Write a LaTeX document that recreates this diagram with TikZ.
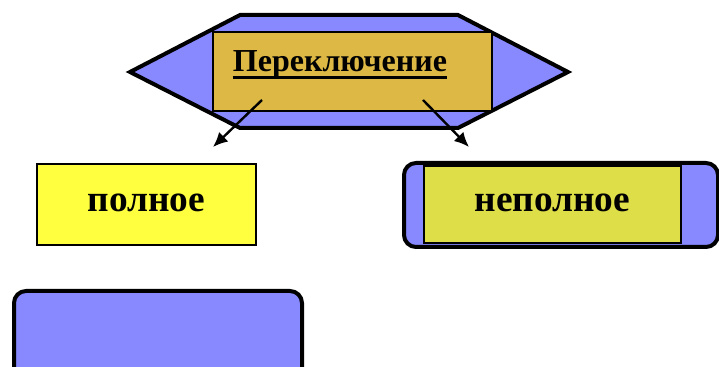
\documentclass[tikz,border=0pt]{standalone}
\usepackage{fontspec}
\setmainfont{Liberation Serif}
\usepackage{tikz}
\usetikzlibrary{calc}
\usetikzlibrary{arrows.meta}
\definecolor{lilac}{RGB}{136,136,255}
\definecolor{gold}{RGB}{221,184,69}
\definecolor{lemon}{RGB}{255,255,64}
\definecolor{olive}{RGB}{222,222,72}

\begin{document}
\begin{tikzpicture}[x=0.75pt,y=-0.75pt]
\tikzstyle{switchbox}=[rectangle,draw,line width=1.5pt,inner sep=0pt]
\tikzstyle{caption}=[font=\bfseries\fontsize{28}{30}\selectfont,inner sep=0pt,anchor=base]

\useasboundingbox (0,0) rectangle (719,367);

% upper hexagon
\draw[line width=3pt,fill=lilac] (130,72) -- (240,15) -- (458,15) -- (568,72) -- (458,128) -- (240,128) -- cycle;
\node [switchbox, fill=gold, minimum width=209.25pt, minimum height=59.25pt] (sw) at (352.5,71.5) {};
\node [caption, font=\bfseries\fontsize{24}{26}\selectfont] (swlabel) at (340,72) {Переключение};
\draw[line width=2.25pt] ($(swlabel.base west)+(0,6)$) -- ($(swlabel.base east)+(0,6)$);

% full
\node [switchbox, fill=lemon, minimum width=164.25pt, minimum height=60.75pt] (full) at (146.5,204.5) {};
\node [caption] (fulllabel) at (146.5,212) {полное};

% not full
\node [rectangle, rounded corners=9pt, draw, line width=3pt, fill=lilac, minimum width=235.5pt, minimum height=63pt] (partout) at (561,205) {};
\node [switchbox, fill=olive, minimum width=192.75pt, minimum height=57.75pt] (part) at (552.5,204.5) {};
\node [caption] (partlabel) at (552.5,212) {неполное};

% empty one
\draw[line width=3pt,fill=lilac,rounded corners=9pt] (14,385) -- (14,291) -- (302,291) -- (302,385);

\coordinate (fromL) at (262,100);
\coordinate (fromR) at (423,100);
\coordinate (toL) at (213,147);
\coordinate (toR) at (469,147);

\draw[->,line width=1.8pt,>={Latex[length=11pt,width=10pt]}] (fromL) -- (toL);
\draw[->,line width=1.8pt,>={Latex[length=11pt,width=10pt]}] (fromR) -- (toR);

\end{tikzpicture}
\end{document}
